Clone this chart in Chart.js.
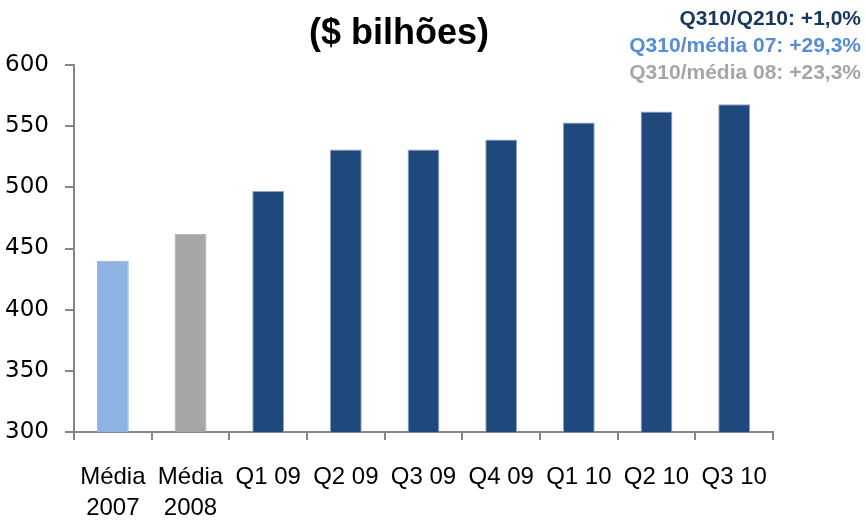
<!DOCTYPE html>
<html>
<head>
<meta charset="utf-8">
<script src="https://cdn.jsdelivr.net/npm/chart.js@4"></script>
<style>
  html, body { margin: 0; padding: 0; background: #fff; }
  #wrap { width: 866px; height: 526px; }
</style>
</head>
<body>
<div id="wrap"><canvas id="chart" width="866" height="526"></canvas></div>
<script>
// data
const categories = [['Média', '2007'], ['Média', '2008'], 'Q1 09', 'Q2 09', 'Q3 09', 'Q4 09', 'Q1 10', 'Q2 10', 'Q3 10'];
const values = [440, 462, 497, 531, 531, 539, 553, 562, 568];
const barColors = ['#8DB3E2', '#A6A6A6', '#1F497D', '#1F497D', '#1F497D', '#1F497D', '#1F497D', '#1F497D', '#1F497D'];
const yTicks = [300, 350, 400, 450, 500, 550, 600];
const titleText = '($ bilhões)';
const notes = ['Q310/Q210: +1,0%', 'Q310/média 07: +29,3%', 'Q310/média 08: +23,3%'];
const noteColors = ['#17375E', '#558ED5', '#A6A6A6'];

// draws the title and the comparison notes in the top area
const headerText = {
    id: 'headerText',
    afterDraw(chart) {
        const ctx = chart.ctx;
        ctx.save();
        ctx.fillStyle = '#000';
        ctx.font = 'bold 36px "Liberation Sans"';
        ctx.textAlign = 'center';
        ctx.textBaseline = 'alphabetic';
        ctx.fillText(titleText, 399, 44);

        ctx.font = 'bold 21px "Liberation Sans"';
        ctx.textAlign = 'right';
        notes.forEach((t, i) => {
            ctx.fillStyle = noteColors[i];
            ctx.fillText(t, 861, 25 + i * 27);
        });
        ctx.restore();
    }
};

new Chart(document.getElementById('chart'), {
    type: 'bar',
    data: {
        labels: categories,
        datasets: [{
            data: values,
            backgroundColor: barColors,
            borderColor: barColors.map(c => c === '#1F497D' ? '#8EA4C2' : c),
            borderWidth: 1,
            barPercentage: 0.41,
            categoryPercentage: 1
        }]
    },
    options: {
        responsive: false,
        animation: false,
        layout: { padding: { top: 65, right: 93, left: 0, bottom: 0 } },
        plugins: {
            legend: { display: false },
            tooltip: { enabled: false }
        },
        scales: {
            y: {
                min: 300,
                max: 600,
                afterFit: scale => { scale.width = 74; },
                afterBuildTicks: scale => { scale.ticks = yTicks.map(v => ({ value: v })); },
                border: { display: true, color: '#868686', width: 2 },
                grid: { drawOnChartArea: false, tickLength: 9, color: '#868686', lineWidth: 2 },
                ticks: {
                    color: '#000',
                    padding: 16,
                    font: { family: '"DejaVu Sans"', size: 23 }
                }
            },
            x: {
                afterFit: scale => { scale.height = 94; },
                border: { display: true, color: '#868686', width: 2 },
                grid: { drawOnChartArea: false, tickLength: 8, color: '#868686', lineWidth: 2, offset: true },
                ticks: {
                    color: '#000',
                    padding: 22,
                    maxRotation: 0,
                    autoSkip: false,
                    font: { family: '"Liberation Sans"', size: 24, lineHeight: 1.3 }
                }
            }
        }
    },
    plugins: [headerText]
});
</script>
</body>
</html>
